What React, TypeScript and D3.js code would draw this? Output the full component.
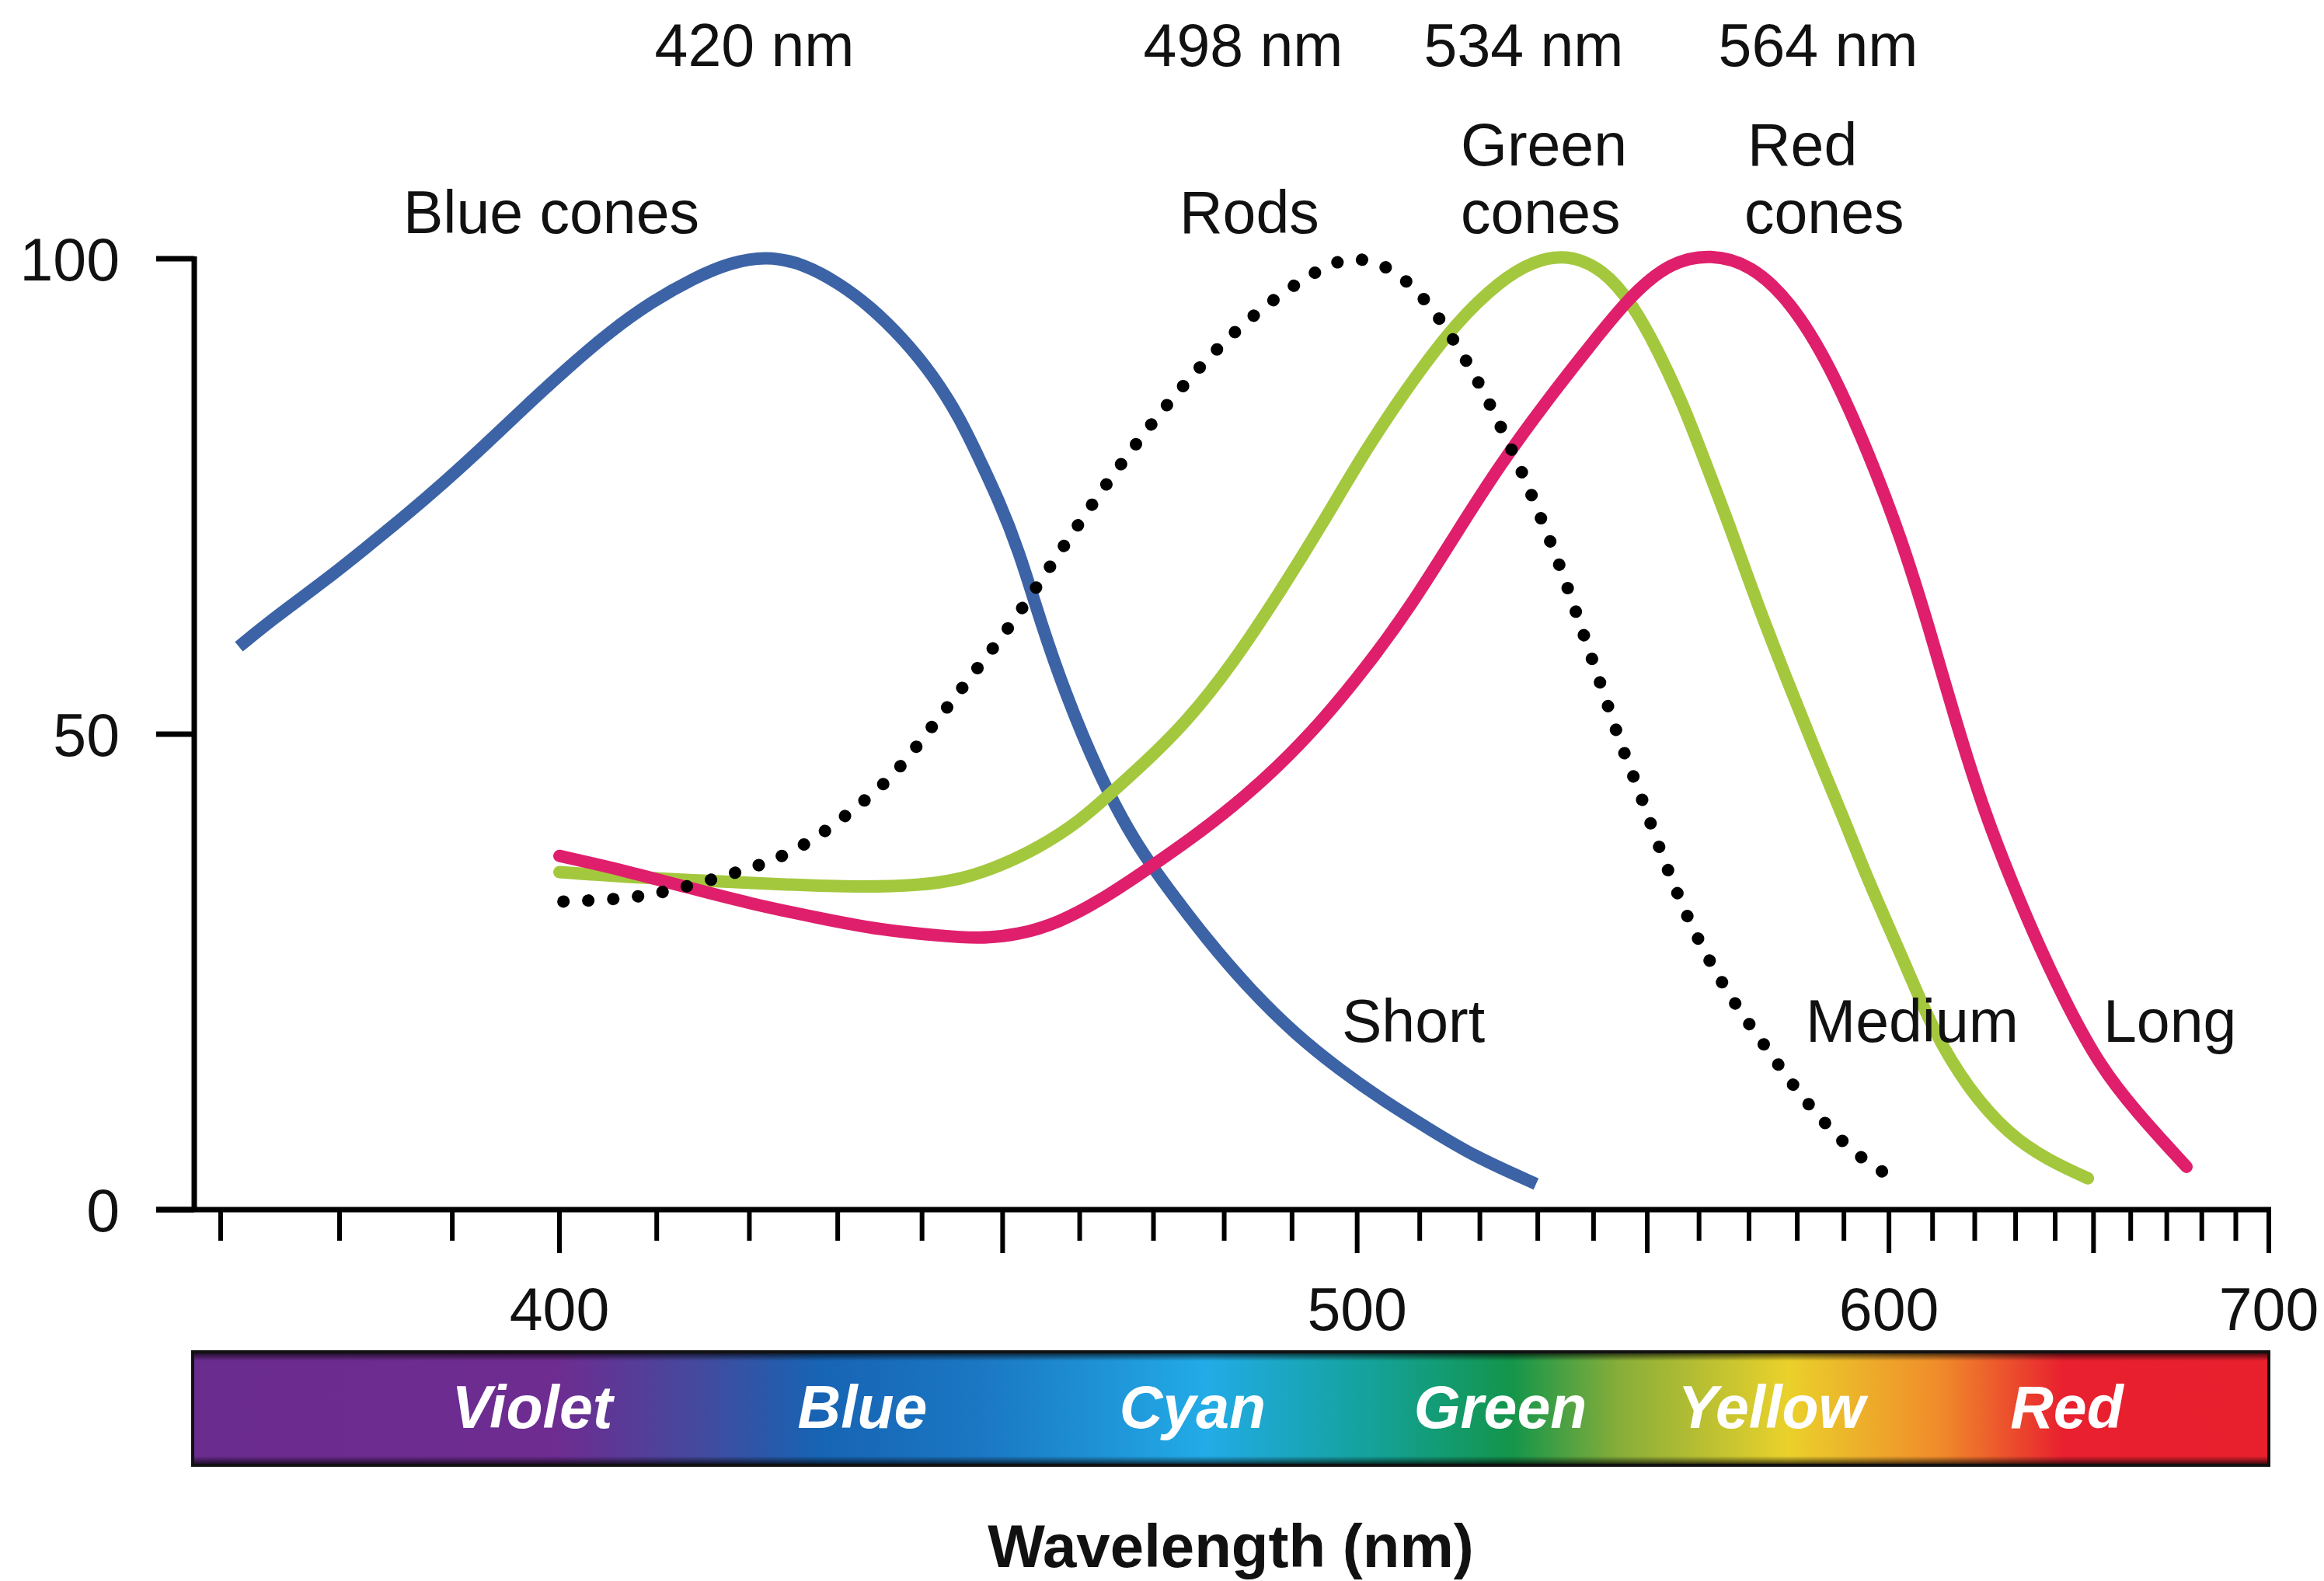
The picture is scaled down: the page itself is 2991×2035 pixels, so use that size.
import React from 'react';
import * as d3 from 'd3';

const W = 2991;
const H = 2035;

// [wavelength nm, relative absorbance %]
const blueCones: [number, number][] = [
  [371.5, 59.2], [374.3, 62.1], [378.7, 66.1], [382.3, 69.6], [385.5, 72.7], [389.2, 76.4],
  [393.1, 80.5], [396.9, 84.6], [400.9, 88.6], [405.2, 92.4], [409.5, 95.5], [414, 98],
  [417.9, 99.6], [421.9, 100.3], [426, 99.5], [430.2, 97.4], [433.9, 94.9], [437.6, 91.7],
  [441.4, 87.7], [444.6, 83.3], [447.1, 78.9], [449.5, 74.6], [452, 69.5], [455, 61.5],
  [458, 54.5], [462.5, 45.8], [467.5, 38.5], [472, 33.8], [477.4, 28.5], [483.8, 23.1],
  [490.4, 18.5], [497.3, 14.7], [504.3, 11.4], [511.5, 8.5], [519, 5.6], [529.7, 2.7],
];

const rods: [number, number][] = [
  [400.4, 32.4], [405.5, 32.6], [410.4, 33.2], [418.1, 35.3], [423.1, 36.8], [427.8, 39.2],
  [432.3, 42.4], [436.5, 45.5], [440.3, 49.8], [443.9, 53.7], [447.5, 57.7], [451.4, 61.8],
  [458.2, 70.2], [465.4, 78.4], [473.6, 86.4], [483.2, 93.8], [495, 99.5], [500.4, 100.3],
  [506.2, 98.8], [511.6, 95.3], [516, 91.1], [520.2, 86.6], [523.9, 81.9], [527.4, 77.4],
  [530.5, 72.8], [533.7, 68.1], [536.5, 63.4], [539.3, 58.6], [542.2, 53.8], [545, 48.9],
  [548.4, 44.2], [551.5, 39.2], [554.8, 34.5], [558.5, 29.8], [562.8, 25.4], [567.9, 21],
  [573.6, 17], [579.3, 12.9], [586.1, 8.9], [593.4, 5.4], [602.8, 2.8],
];

const greenCones: [number, number][] = [
  [400, 35.5], [406.5, 35], [415, 34.6], [423.6, 34.2], [432.7, 33.9], [439.8, 34.1],
  [444.7, 34.7], [449.6, 36.1], [454.7, 38.1], [459.9, 40.8], [463.6, 43.4], [468.7, 46.9],
  [474.9, 51.5], [481.3, 57.5], [487.8, 64.5], [494.6, 72.1], [501.5, 80.1], [508.7, 87.1],
  [516, 93.3], [523.5, 97.7], [529, 99.7], [535, 100.5], [541.7, 99], [547.4, 95.1],
  [552, 90.4], [556.8, 84.8], [561.3, 78.5], [566.3, 71.6], [571.9, 63.4], [577.7, 55.9],
  [583.6, 48.5], [589.5, 41.7], [595.6, 34.3], [602.8, 26.8], [610.2, 18.7], [618.6, 12.6],
  [628.3, 7.9], [638.2, 5.2], [648.5, 3.3],
];

const redCones: [number, number][] = [
  [400, 37.2], [406.5, 35.7], [413.2, 33.9], [420, 32.2], [428.1, 30.6], [435.1, 29.4],
  [442.2, 28.8], [447.1, 28.5], [452.1, 28.9], [457.3, 30.2], [462.5, 32.4], [468, 35.2],
  [474.9, 38.8], [481.3, 42.4], [487.8, 46.5], [494.6, 51.4], [501.5, 57.1], [508.7, 63.6],
  [516, 71.1], [523.5, 78.4], [531.4, 84.9], [539.3, 90.8], [547.1, 96.3], [554.6, 99.7],
  [562.4, 100.5], [570.3, 99.4], [578.5, 95.6], [587, 88.8], [595.6, 79.4], [602.8, 70.6],
  [609.2, 61.2], [615.6, 51.1], [622.4, 41.7], [629.2, 34.3], [636.1, 27.5], [643.2, 21.4],
  [651.6, 15.2], [661.2, 10.4], [675.6, 4.5],
];

const xTicks = d3.range(370, 701, 10);
const xMajorTicks = [400, 450, 500, 550, 600, 650, 700];
const xTickLabels = [400, 500, 600, 700];
const yTicks = [0, 50, 100];

const peakLabels = ['420 nm', '498 nm', '534 nm', '564 nm'];
const curveNames = ['Blue cones', 'Rods', 'Green', 'cones', 'Red', 'cones'];
const rangeNames = ['Short', 'Medium', 'Long'];
const spectrumNames = ['Violet', 'Blue', 'Cyan', 'Green', 'Yellow', 'Red'];
const spectrumColors = ['#6a2c8e', '#6e2c91', '#404c9f', '#1764b4', '#1b78c4', '#22abe7',
  '#14a29a', '#13954b', '#89ae39', '#ead12b', '#f08c2a', '#e8202f', '#e81f2d'];
const spectrumOffsets = [0, 0.175, 0.249, 0.302, 0.382, 0.488, 0.568, 0.635, 0.688, 0.768, 0.841, 0.901, 1];

// layout
const peakLabelX = [971, 1600, 1961, 2340];
const curveNamePos = [[519, 300], [1518, 300], [1880, 213], [1880, 300], [2249, 213], [2245, 300]];
const rangeNameX = [1727, 2324, 2707];
const spectrumNameX = [685, 1110, 1535, 1931, 2280, 2660];

const FONT = '"Liberation Sans", Arial, Helvetica, sans-serif';

export default function App() {
  const x = d3.scaleLinear().domain([1 / 370, 1 / 400, 1 / 700]).range([284, 720, 2920]);
  const xs = (nm: number) => x(1 / nm);
  const y = d3.scaleLinear().domain([0, 100]).range([1557, 333]);

  const line = d3
    .line<[number, number]>()
    .x((d) => xs(d[0]))
    .y((d) => y(d[1]))
    .curve(d3.curveBasis);

  const axisX0 = 250;
  const barTop = 1740;
  const barBottom = 1886;
  const barLeft = 248;
  const barRight = 2920;
  const fs = 77;
  const lw = 16;

  return (
    <svg width={W} height={H} viewBox={`0 0 ${W} ${H}`}
      style={{ position: 'absolute', left: 0, top: 0, display: 'block', background: '#fff' }}>
      <defs>
        <linearGradient id="spec" x1="0" x2="1" y1="0" y2="0">
          {spectrumColors.map((c, i) => (
            <stop key={i} offset={spectrumOffsets[i]} stopColor={c} />
          ))}
        </linearGradient>
        <linearGradient id="shade" x1="0" x2="0" y1="0" y2="1">
          <stop offset="0" stopColor="#000" stopOpacity={0.8} />
          <stop offset="0.08" stopColor="#000" stopOpacity={0} />
          <stop offset="0.92" stopColor="#000" stopOpacity={0} />
          <stop offset="1" stopColor="#000" stopOpacity={0.8} />
        </linearGradient>
      </defs>

      {/* spectrum bar */}
      <rect x={barLeft} y={barTop} width={barRight - barLeft} height={barBottom - barTop} fill="url(#spec)" />
      <rect x={barLeft} y={barTop} width={barRight - barLeft} height={barBottom - barTop} fill="url(#shade)" />
      <rect x={barLeft} y={barTop} width={barRight - barLeft} height={barBottom - barTop} fill="none" stroke="#111" strokeWidth={4} />
      {spectrumNames.map((n, i) => (
        <text key={n} x={spectrumNameX[i]} y={1838} textAnchor="middle" fontFamily={FONT}
          fontWeight="bold" fontStyle="italic" fontSize={fs} fill="#fff">{n}</text>
      ))}

      {/* axes */}
      <line x1={axisX0} x2={axisX0} y1={y(100) - 3} y2={y(0)} stroke="#000" strokeWidth={7} />
      <line x1={201} x2={barRight + 3} y1={y(0)} y2={y(0)} stroke="#000" strokeWidth={7} />
      {yTicks.map((t) => (
        <g key={t}>
          <line x1={201} x2={axisX0} y1={y(t)} y2={y(t)} stroke="#000" strokeWidth={7} />
          <text x={154} y={y(t) + 28} textAnchor="end" fontFamily={FONT} fontSize={fs} fill="#111">{t}</text>
        </g>
      ))}
      {xTicks.map((t) => (
        <line key={t} x1={xs(t)} x2={xs(t)} y1={y(0)} y2={y(0) + (xMajorTicks.includes(t) ? 56 : 40)}
          stroke="#000" strokeWidth={6} />
      ))}
      {xTickLabels.map((t) => (
        <text key={t} x={xs(t)} y={1712} textAnchor="middle" fontFamily={FONT} fontSize={fs} fill="#111">{t}</text>
      ))}

      {/* curves */}
      <path d={line(blueCones) || ''} fill="none" stroke="#3c63a6" strokeWidth={lw} strokeLinecap="butt" />
      <path d={line(greenCones) || ''} fill="none" stroke="#a4c83d" strokeWidth={lw} strokeLinecap="round" />
      <path d={line(redCones) || ''} fill="none" stroke="#df1f6c" strokeWidth={lw} strokeLinecap="round" />
      <path d={line(rods) || ''} fill="none" stroke="#000" strokeWidth={16} strokeLinecap="round"
        strokeDasharray="0.1 32" />

      {/* labels */}
      {peakLabels.map((l, i) => (
        <text key={l} x={peakLabelX[i]} y={85} textAnchor="middle" fontFamily={FONT} fontSize={fs} fill="#111">{l}</text>
      ))}
      {curveNames.map((l, i) => (
        <text key={i} x={curveNamePos[i][0]} y={curveNamePos[i][1]} fontFamily={FONT} fontSize={fs} fill="#111">{l}</text>
      ))}
      {rangeNames.map((l, i) => (
        <text key={l} x={rangeNameX[i]} y={1341} fontFamily={FONT} fontSize={fs} fill="#111">{l}</text>
      ))}
      <text x={1584} y={2017} textAnchor="middle" fontFamily={FONT} fontWeight="bold" fontSize={78} fill="#111">
        Wavelength (nm)
      </text>
    </svg>
  );
}
